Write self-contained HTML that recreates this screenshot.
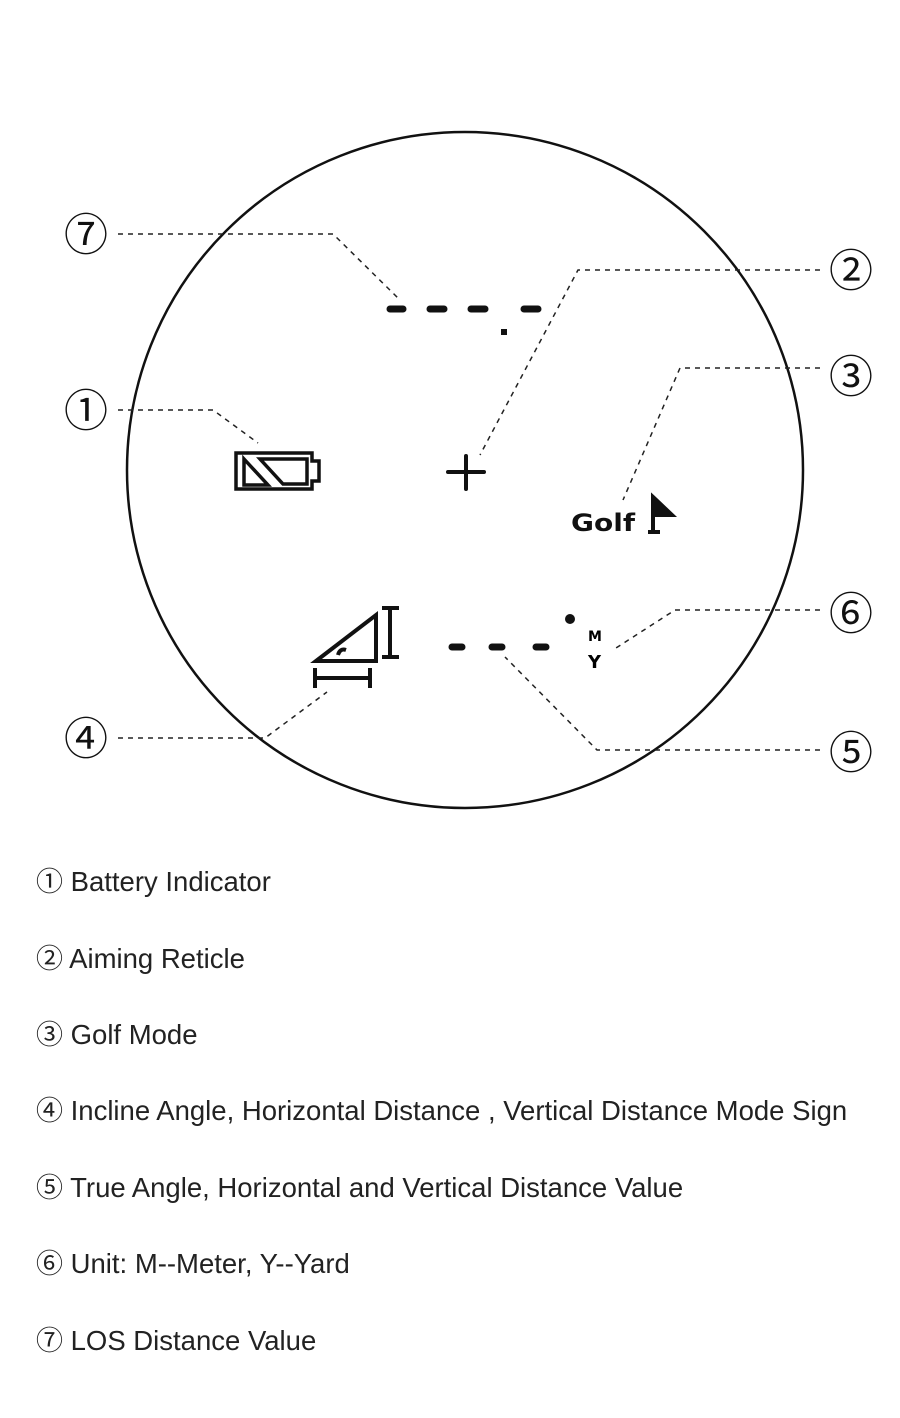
<!DOCTYPE html>
<html><head><meta charset="utf-8"><style>
body{margin:0;background:#fff;width:900px;height:1418px;overflow:hidden;font-family:"Liberation Sans","DejaVu Sans",sans-serif}
.t{position:absolute;left:36px;font-size:27.5px;color:#222;white-space:nowrap;line-height:32px}
.c{font-family:"Noto Sans CJK JP","DejaVu Sans",sans-serif;font-size:27px}
</style></head><body>
<svg width="900" height="840" style="position:absolute;left:0;top:0" xmlns="http://www.w3.org/2000/svg">
<circle cx="465" cy="470" r="338" fill="none" stroke="#111" stroke-width="2.5"/>
<g fill="none" stroke="#222" stroke-width="1.5" stroke-dasharray="5,5">
<polyline points="118,234 333,234 400,300"/>
<polyline points="820,270 578,270 480,455"/>
<polyline points="820,368 680,368 623,500"/>
<polyline points="118,410 213,410 258,443"/>
<polyline points="820,610 675,610 616,648"/>
<polyline points="820,750 597,750 505,657"/>
<polyline points="118,738 265,738 327,692"/>
</g>
<g font-family="Noto Sans CJK JP,DejaVu Sans,sans-serif" font-size="44" fill="#111" text-anchor="middle">
<text x="86" y="250">⑦</text><text x="851" y="286">②</text><text x="851" y="392">③</text>
<text x="86" y="426">①</text><text x="851" y="629">⑥</text><text x="851" y="768">⑤</text><text x="86" y="754">④</text>
</g>
<g stroke="#111" stroke-linecap="round" stroke-width="7">
<line x1="390" y1="309" x2="403" y2="309"/><line x1="430" y1="309" x2="444" y2="309"/><line x1="471" y1="309" x2="485" y2="309"/><line x1="524" y1="309" x2="538" y2="309"/>
<line x1="452" y1="647" x2="462" y2="647"/><line x1="492" y1="647" x2="502" y2="647"/><line x1="536" y1="647" x2="546" y2="647"/>
</g>
<rect x="501" y="329" width="6" height="6" fill="#111"/>
<g stroke="#111" stroke-width="4" stroke-linecap="round"><line x1="448" y1="472" x2="484" y2="472"/><line x1="466" y1="456" x2="466" y2="489"/></g>
<g fill="none" stroke="#111" stroke-width="3.5">
<path d="M236 453 H312 V461 H319 V481 H312 V489 H236 Z"/>
<path d="M244 459 L268 485 H244 Z"/><path d="M260 459 H307 V484 H283 Z"/>
</g>
<text x="571" y="531" font-family="DejaVu Sans,sans-serif" font-weight="bold" font-size="24" textLength="64" lengthAdjust="spacingAndGlyphs" fill="#111">Golf</text>
<g stroke="#111" stroke-width="4" fill="none"><path d="M653 497 V532 M648 532 H660"/><path d="M653 497 L672 515 H653 Z" fill="#111"/></g>
<circle cx="570" cy="619" r="5" fill="#111"/>
<text x="588" y="641" font-family="DejaVu Sans,sans-serif" font-weight="bold" font-size="14">M</text>
<text x="588" y="668" font-family="DejaVu Sans,sans-serif" font-weight="bold" font-size="18">Y</text>
<g stroke="#111" fill="none" stroke-width="4">
<path d="M316 661 L376 615 V661 Z"/><path d="M338 655 Q340 648 346 650"/>
<path d="M382 608 H399 M390 608 V657 M382 657 H399"/>
<path d="M315 668 V688 M370 668 V688 M315 678 H370"/>
</g>
</svg>
<div class="t" style="top:864px"><span class="c">①</span> Battery Indicator</div>
<div class="t" style="top:941px"><span class="c">②</span> Aiming Reticle</div>
<div class="t" style="top:1017px"><span class="c">③</span> Golf Mode</div>
<div class="t" style="top:1093px"><span class="c">④</span> Incline Angle, Horizontal Distance , Vertical Distance Mode Sign</div>
<div class="t" style="top:1170px"><span class="c">⑤</span> True Angle, Horizontal and Vertical Distance Value</div>
<div class="t" style="top:1246px"><span class="c">⑥</span> Unit: M--Meter, Y--Yard</div>
<div class="t" style="top:1323px"><span class="c">⑦</span> LOS Distance Value</div>
</body></html>
